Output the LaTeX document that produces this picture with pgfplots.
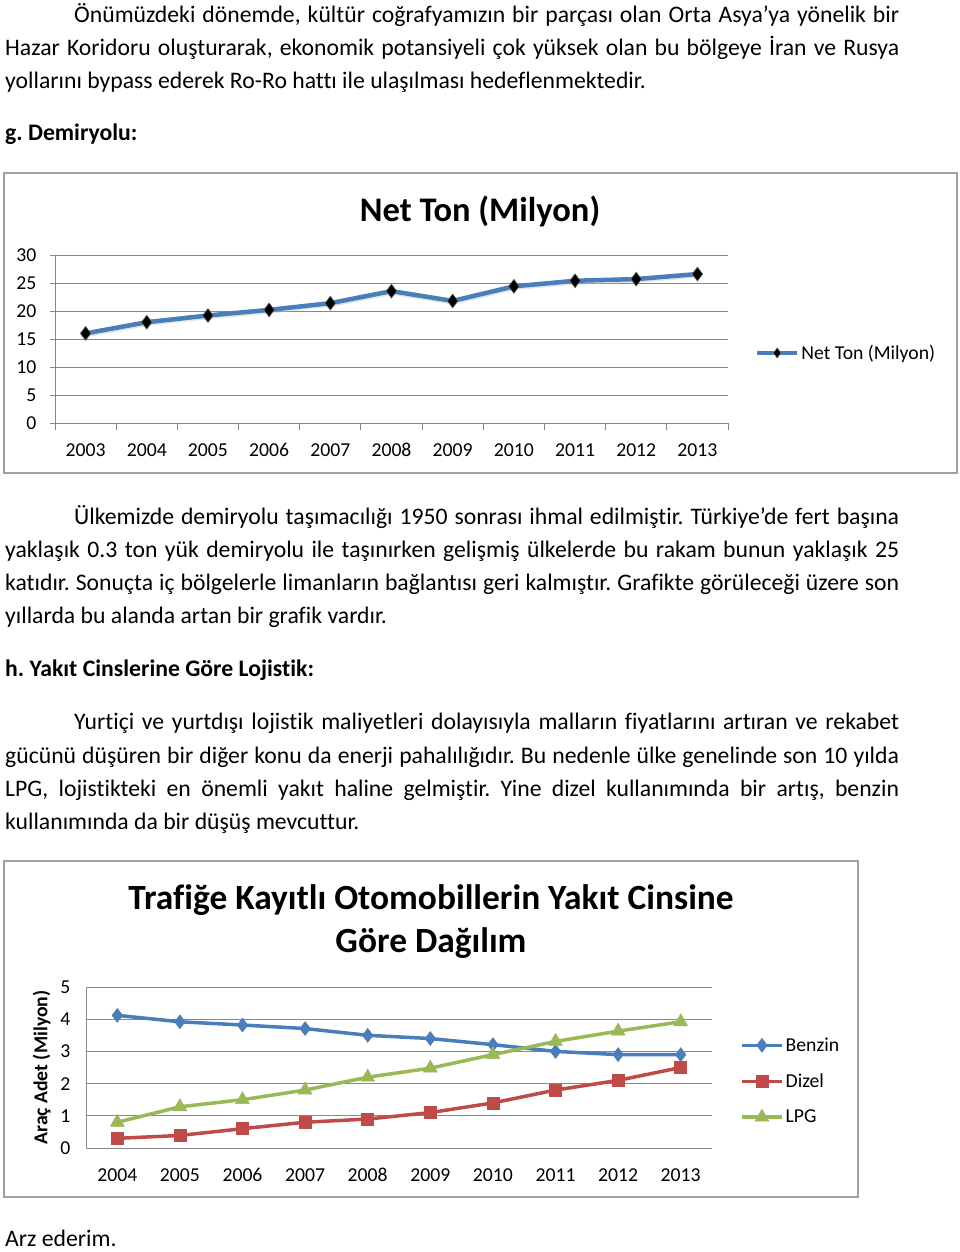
\documentclass[border=0pt]{standalone}
\usepackage{fontspec}
\setmainfont{Carlito}[Ligatures=NoCommon]
\usepackage{pgfplots}
\pgfplotsset{compat=1.18}
\frenchspacing
\definecolor{xblue}{HTML}{4A7EBB}
\definecolor{xred}{HTML}{BE4B48}
\definecolor{xgreen}{HTML}{98B954}
\definecolor{gridc}{HTML}{888888}
\definecolor{framec}{HTML}{A0A0A0}
\newcommand\body{\fontsize{23.7}{33}\selectfont}
\newcommand\chartfont{\fontsize{19.7}{22}\selectfont}
\newcommand\titlefont{\fontsize{34.5}{43}\selectfont\bfseries}
\newcommand\titlefontb{\fontsize{35.4}{43}\selectfont\bfseries}
\newcommand\jline[3]{\node[anchor=base west,inner sep=0pt] at (#1pt,-#2pt) {\body\makebox[\dimexpr899pt-#1pt\relax][s]{#3}};}
\newcommand\lline[3]{\node[anchor=base west,inner sep=0pt] at (#1pt,-#2pt) {\body #3};}
\begin{document}
\begin{tikzpicture}
\path[use as bounding box] (0pt,0pt) rectangle (960pt,-1252pt);
% paragraph 1
\jline{74}{23}{Önümüzdeki dönemde, kültür coğrafyamızın bir parçası olan Orta Asya’ya yönelik bir}
\jline{5}{56}{Hazar Koridoru oluşturarak, ekonomik potansiyeli çok yüksek olan bu bölgeye İran ve Rusya}
\lline{5}{89}{yollarını bypass ederek Ro-Ro hattı ile ulaşılması hedeflenmektedir.}
\lline{5}{141}{\bfseries g. Demiryolu:}
% paragraph 2
\jline{74}{524}{Ülkemizde demiryolu taşımacılığı 1950 sonrası ihmal edilmiştir. Türkiye’de fert başına}
\jline{5}{557}{yaklaşık 0.3 ton yük demiryolu ile taşınırken gelişmiş ülkelerde bu rakam bunun yaklaşık 25}
\jline{5}{590}{katıdır. Sonuçta iç bölgelerle limanların bağlantısı geri kalmıştır. Grafikte görüleceği üzere son}
\lline{5}{623}{yıllarda bu alanda artan bir grafik vardır.}
\lline{5}{676}{\bfseries h. Yakıt Cinslerine Göre Lojistik:}
% paragraph 3
\jline{74}{729}{Yurtiçi ve yurtdışı lojistik maliyetleri dolayısıyla malların fiyatlarını artıran ve rekabet}
\jline{5}{763}{gücünü düşüren bir diğer konu da enerji pahalılığıdır. Bu nedenle ülke genelinde son 10 yılda}
\jline{5}{796}{LPG, lojistikteki en önemli yakıt haline gelmiştir. Yine dizel kullanımında bir artış, benzin}
\lline{5}{829}{kullanımında da bir düşüş mevcuttur.}
\lline{5}{1246}{Arz ederim.}
% chart frames
\draw[framec, line width=1.5pt] (4pt,-173pt) rectangle (957pt,-473pt);
\draw[framec, line width=1.5pt] (4pt,-861pt) rectangle (858pt,-1197pt);
% titles
\node[anchor=base,inner sep=0pt] at (480pt,-221pt) {\titlefont Net Ton (Milyon)};
\node[anchor=base,inner sep=0pt] at (431pt,-909pt) {\titlefontb Trafiğe Kayıtlı Otomobillerin Yakıt Cinsine};
\node[anchor=base,inner sep=0pt] at (431pt,-952pt) {\titlefontb Göre Dağılım};

\pgfplotsset{
  mystyle/.style={
    scale only axis,
    anchor=south west,
    axis x line*=bottom, axis y line*=left,
    axis line style={gridc, line width=1pt},
    ymajorgrids, grid style={gridc, line width=1pt},
    tick align=outside,
    tick style={gridc, line width=1pt},
    xtick={0,...,10},
    every major x tick/.style={draw=none},
    /pgf/number format/assume math mode=true,
    tick label style={font=\chartfont},
    legend style={draw=none, fill=none, font=\chartfont, inner sep=0pt, outer sep=0pt},
    legend cell align=left,
    clip=false,
  }
}
% chart 1
\begin{axis}[mystyle,
  at={(55pt,-423pt)}, width=673pt, height=168pt,
  xmin=-0.5, xmax=10.5, ymin=0, ymax=30,
  ytick={0,5,...,30},
  xticklabels={2003,2004,2005,2006,2007,2008,2009,2010,2011,2012,2013},
  xticklabel style={yshift=-12pt, text height=12.6pt, text depth=0pt},
  yticklabel style={xshift=-10pt},
  minor xtick={-0.5,0.5,...,10.5},
  major tick length=5pt, minor tick length=7pt,
  legend style={at={(1.04,0.417)}, anchor=west},
  legend image code/.code={
    \draw[#1, mark=none] (0pt,0pt) -- (40pt,0pt);
    \draw[#1, mark size=5pt] plot coordinates {(20pt,0pt)};
  },
]
\addplot[gray!50, line width=5.5pt, opacity=0.4, forget plot, shift={(1pt,-1pt)}] coordinates {
(0,16.0) (1,18.0) (2,19.2) (3,20.2) (4,21.4) (5,23.55) (6,21.8) (7,24.4) (8,25.4) (9,25.7) (10,26.6)};
\addplot[xblue, line width=4.5pt, mark=diamond*, mark size=7pt,
  mark options={fill=black, draw=black!60, line width=0.6pt}] coordinates {
(0,16.0) (1,18.0) (2,19.2) (3,20.2) (4,21.4) (5,23.55) (6,21.8) (7,24.4) (8,25.4) (9,25.7) (10,26.6)};
\addlegendentry{Net Ton (Milyon)}
\end{axis}
% chart 2
\begin{axis}[mystyle,
  at={(86pt,-1148pt)}, width=626pt, height=161pt,
  xmin=-0.5, xmax=9.5, ymin=0, ymax=5,
  ytick={0,1,...,5},
  xtick={0,...,9},
  xticklabels={2004,2005,2006,2007,2008,2009,2010,2011,2012,2013},
  xticklabel style={yshift=-17pt, text height=12.6pt, text depth=0pt},
  yticklabel style={xshift=-12pt},
  major tick length=0pt,
  ylabel={\bfseries Araç Adet (Milyon)},
  ylabel style={font=\chartfont, yshift=3pt},
  legend style={at={(1.045,0.416)}, anchor=west, row sep=17pt},
  legend image code/.code={
    \draw[#1, mark=none] (0pt,0pt) -- (40pt,0pt);
    \draw[#1] plot coordinates {(20pt,0pt)};
  },
]
\addplot[xblue, line width=3.5pt, mark=diamond*, mark size=7pt, mark options={line width=0.5pt}] coordinates {
(0,4.12) (1,3.92) (2,3.82) (3,3.71) (4,3.5) (5,3.4) (6,3.21) (7,3.0) (8,2.9) (9,2.9)};
\addlegendentry{Benzin}
\addplot[xred, line width=3.5pt, mark=square*, mark size=6pt, mark options={line width=0.5pt}] coordinates {
(0,0.3) (1,0.39) (2,0.6) (3,0.8) (4,0.9) (5,1.1) (6,1.4) (7,1.8) (8,2.1) (9,2.5)};
\addlegendentry{Dizel}
\addplot[xgreen, line width=3.5pt, mark=triangle*, mark size=8pt, mark options={line width=0.5pt}] coordinates {
(0,0.8) (1,1.28) (2,1.5) (3,1.8) (4,2.2) (5,2.48) (6,2.9) (7,3.31) (8,3.63) (9,3.92)};
\addlegendentry{LPG}
\end{axis}
\end{tikzpicture}
\end{document}
